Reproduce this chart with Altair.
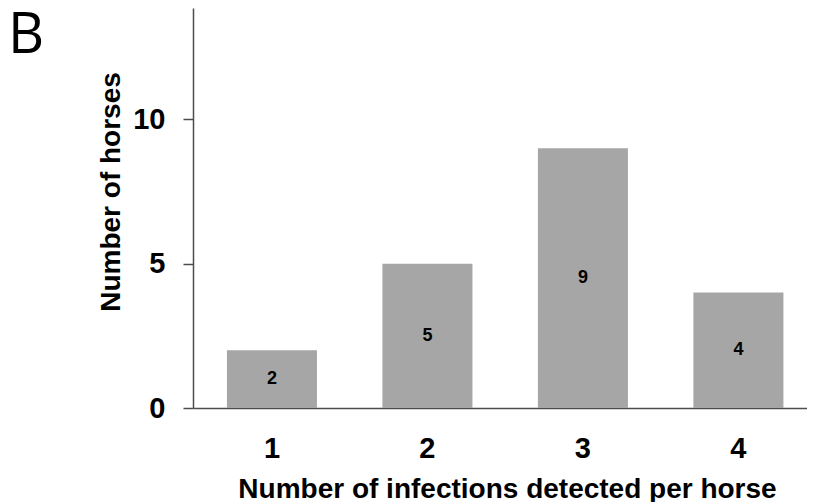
import altair as alt
import pandas as pd

# Data
infections = ["1", "2", "3", "4"]
horses = [2, 5, 9, 4]
panel_label = ["B"]

df = pd.DataFrame({"infections": infections, "horses": horses})
df["mid"] = df["horses"] / 2
panel_df = pd.DataFrame({"panel": panel_label})

AX_FONT = "Liberation Sans"
AX_COLOR = "#4d4d4d"

x_enc = alt.X(
    "infections:O",
    scale=alt.Scale(paddingInner=0.421, paddingOuter=0.185, align=0.59),
    axis=alt.Axis(
        title="Number of infections detected per horse",
        labelAngle=0,
        ticks=False,
        tickSize=0,
        labelPadding=49,
        labelBaseline="alphabetic",
        labelFontSize=29,
        labelFont=AX_FONT,
        labelFontWeight="bold",
        labelColor="black",
        titleFontSize=28,
        titleFont=AX_FONT,
        titleFontWeight="bold",
        titleColor="black",
        titleBaseline="alphabetic",
        titleAlign="center",
        titleX=314,
        titleY=89,
        domainColor=AX_COLOR,
        domainWidth=1.5,
        grid=False,
    ),
)

y_axis = alt.Axis(
    values=[0, 5, 10],
    title="Number of horses",
    tickSize=10,
    tickColor=AX_COLOR,
    tickWidth=1.5,
    labelPadding=18,
    labelFontSize=29,
    labelFont=AX_FONT,
    labelFontWeight="bold",
    labelColor="black",
    titleFontSize=28,
    titleFont=AX_FONT,
    titleFontWeight="bold",
    titleColor="black",
    titleAngle=270,
    titleX=-74,
    titleY=183.5,
    titleBaseline="alphabetic",
    titleAlign="center",
    domainColor=AX_COLOR,
    domainWidth=1.5,
    grid=False,
)
y_scale = alt.Scale(domain=[0, 13.86], nice=False)

bars = alt.Chart(df).mark_bar(color="#a6a6a6").encode(
    x=x_enc,
    y=alt.Y("horses:Q", scale=y_scale, axis=y_axis),
)

labels = alt.Chart(df).mark_text(
    font=AX_FONT, fontSize=18, fontWeight="bold", color="black", baseline="middle"
).encode(
    x=alt.X("infections:O"),
    y=alt.Y("mid:Q", scale=y_scale, title="Number of horses"),
    text="horses:Q",
)

panel = alt.Chart(panel_df).mark_text(
    font="Open Sans", fontSize=56, align="left", baseline="alphabetic", color="black"
).encode(
    x=alt.value(-185),
    y=alt.value(45),
    text="panel:N",
)

chart = (
    alt.layer(bars, labels, panel)
    .properties(width=614, height=400, padding=0, background="white")
    .configure_view(stroke=None)
)

chart.save("out.html", embed_options={"renderer": "svg", "actions": False})
